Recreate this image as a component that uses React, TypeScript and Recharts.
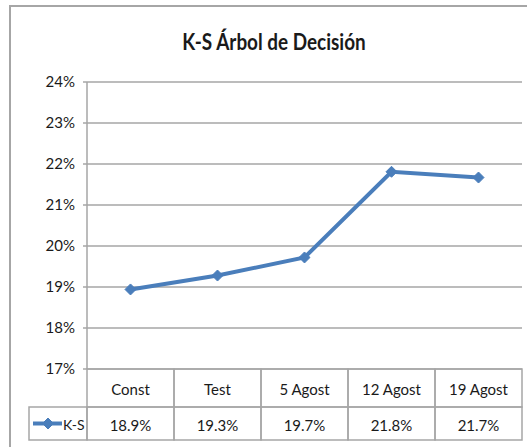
import { LineChart, Line, XAxis, YAxis, CartesianGrid } from "recharts";

const categories = ["Const", "Test", "5 Agost", "12 Agost", "19 Agost"];
const ksValues = [18.94, 19.28, 19.72, 21.81, 21.67];
const yTicks = [17, 18, 19, 20, 21, 22, 23, 24];
const seriesName = "K-S";
const title = "K-S Árbol de Decisión";

const data = categories.map((name, i) => ({ name, ks: ksValues[i] }));

const FONT = "Lato, 'Open Sans', sans-serif";
const LINE = "#4a7ebb";
const GRID = "#a6a6a6";
const TEXT = "#1a1a1a";

function Diamond(props: any) {
  const { cx, cy } = props;
  if (cx == null || cy == null) return null;
  const r = 5.5;
  return (
    <polygon
      points={`${cx},${cy - r} ${cx + r},${cy} ${cx},${cy + r} ${cx - r},${cy}`}
      fill={LINE}
      stroke={LINE}
    />
  );
}

// draws the data table under the plot: header row with category, row with value
function TableTick(props: any) {
  const { x, y, payload, index } = props;
  const w = 87;
  const top = y;
  const h1 = 38;
  const h2 = 33;
  const val = ksValues[index];
  return (
    <g>
      <rect x={x - w / 2} y={top} width={w} height={h1} fill="none" stroke={GRID} strokeWidth={1.5} />
      <rect x={x - w / 2} y={top + h1} width={w} height={h2} fill="none" stroke={GRID} strokeWidth={1.5} />
      <text x={x} y={top + h1 / 2 + 7} textAnchor="middle" fontSize={15} fill={TEXT} fontFamily={FONT}>
        {payload.value}
      </text>
      <text x={x} y={top + h1 + h2 / 2 + 7} textAnchor="middle" fontSize={15} fill={TEXT} fontFamily={FONT}>
        {val.toFixed(1)}%
      </text>
      {index === 0 && (
        <g>
          <rect x={29} y={top + h1} width={x - w / 2 - 29} height={h2} fill="none" stroke={GRID} strokeWidth={1.5} />
          <line x1={33} x2={62} y1={top + h1 + h2 / 2} y2={top + h1 + h2 / 2} stroke={LINE} strokeWidth={4} />
          <Diamond cx={48} cy={top + h1 + h2 / 2} />
          <text x={63} y={top + h1 + h2 / 2 + 6} fontSize={14} fill={TEXT} fontFamily={FONT}>
            {seriesName}
          </text>
        </g>
      )}
    </g>
  );
}

export default function App() {
  return (
    <div style={{ position: "absolute", left: 0, top: 0, width: 527, height: 447, background: "#fff" }}>
      <div
        style={{
          position: "absolute",
          left: 9,
          top: 5,
          width: 518,
          height: 442,
          borderTop: `2px solid ${GRID}`,
          borderLeft: `2px solid ${GRID}`,
          boxSizing: "border-box",
        }}
      />
      <div
        style={{
          position: "absolute",
          left: 15,
          width: 518,
          top: 29,
          lineHeight: "26px",
          textAlign: "center",
          fontFamily: FONT,
          fontWeight: "bold",
          fontSize: 22,
          color: TEXT,
          transform: "scaleX(0.86)",
          transformOrigin: "center",
        }}
      >
        {title}
      </div>
      <div style={{ position: "absolute", left: 0, top: 0 }}>
        <LineChart width={527} height={447} data={data} margin={{ top: 82, right: 5, bottom: 0, left: 0 }}>
          <CartesianGrid vertical={false} stroke={GRID} strokeWidth={1.5} />
          <XAxis
            dataKey="name"
            height={78}
            interval={0}
            padding={{ left: 43.5, right: 43.5 }}
            tickLine={false}
            axisLine={false}
            tickSize={0}
            tickMargin={0}
            tick={<TableTick />}
          />
          <YAxis
            width={87}
            domain={[17, 24]}
            ticks={yTicks}
            tickFormatter={(v) => `${v}%`}
            tick={{ fill: TEXT, fontSize: 15, fontFamily: FONT }}
            tickSize={4}
            tickMargin={8}
            stroke={GRID}
            strokeWidth={1.5}
          />
          <Line
            type="linear"
            dataKey="ks"
            name={seriesName}
            stroke={LINE}
            strokeWidth={4}
            dot={<Diamond />}
            activeDot={false}
            isAnimationActive={false}
          />
        </LineChart>
      </div>
    </div>
  );
}
